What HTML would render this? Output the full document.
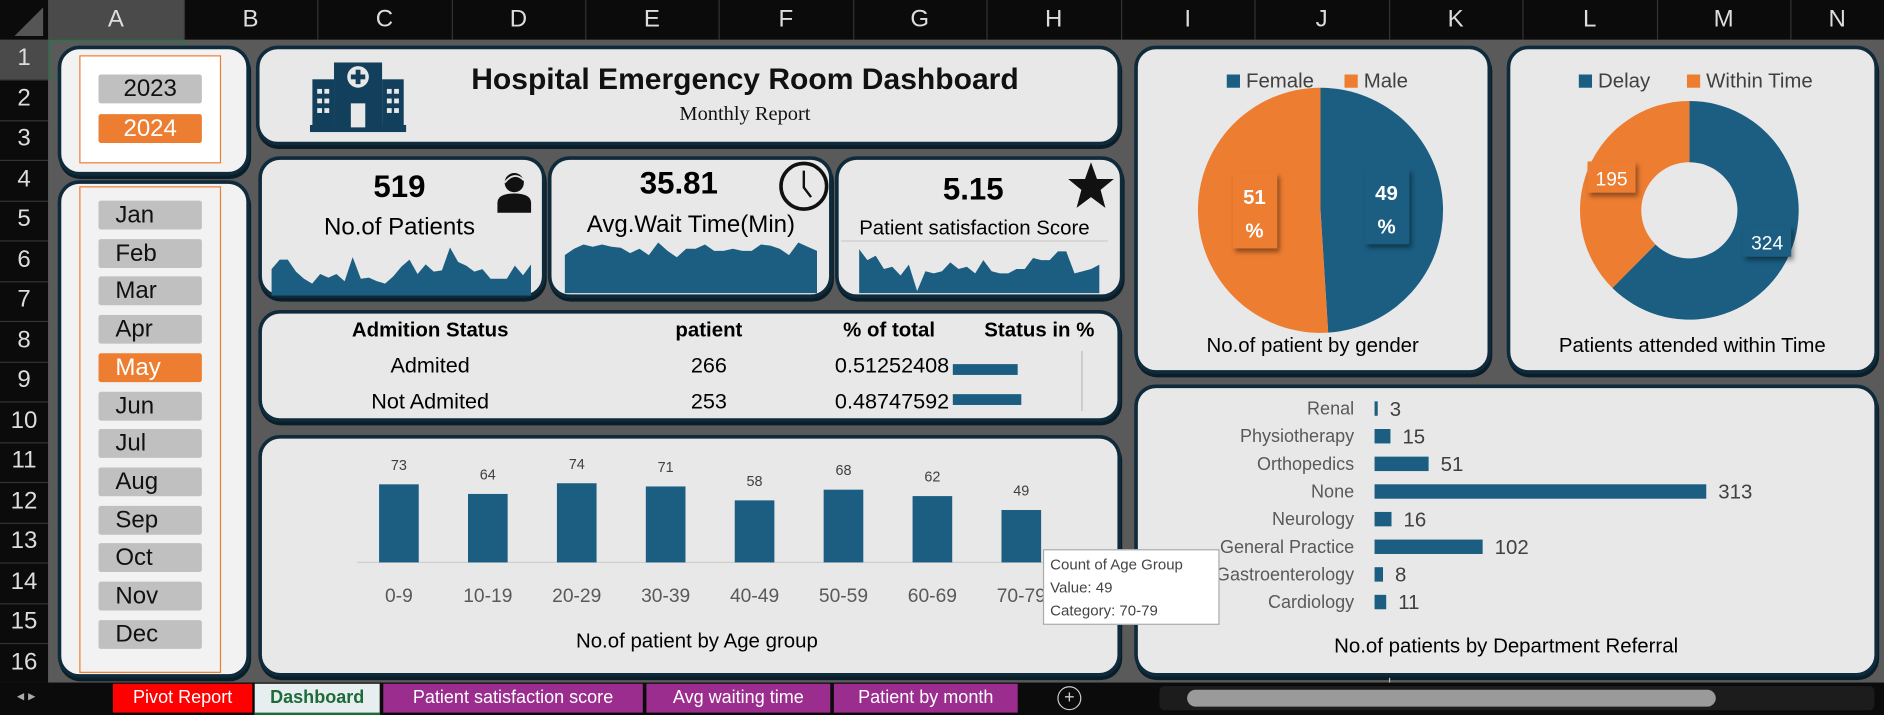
<!DOCTYPE html>
<html><head><meta charset="utf-8">
<style>
html,body{margin:0;padding:0;background:#595959;overflow:hidden;}
body{width:1884px;height:715px;}
#wrap{position:absolute;left:0;top:0;width:1568px;height:595px;transform:scale(1.20153,1.2017);transform-origin:0 0;font-family:"Liberation Sans",sans-serif;background:#5a5a5a;}
.abs{position:absolute;}
.panel{position:absolute;background:#e8e8e8;border:3px solid #0f2b3b;border-radius:18px;box-sizing:border-box;box-shadow:1px 3px 0 #0a1e29;}
.btn{position:absolute;left:82px;width:86px;height:24px;background:#c0c0c0;font-size:20px;color:#111;padding-left:14px;box-sizing:border-box;line-height:25px;border-radius:2px;}
.colh{position:absolute;top:0;height:33px;line-height:33px;font-size:20px;color:#ddd;text-align:center;border-right:1px solid #333;}
.rowh{position:absolute;left:0;width:40px;font-size:20px;color:#ddd;text-align:center;border-bottom:1px solid #333;}
.tab{position:absolute;top:569px;height:24px;line-height:24px;font-size:15px;color:#fff;text-align:center;}
</style></head><body>
<div id="wrap">
<div class="abs" style="left:0;top:0;width:1568px;height:33px;background:#0b0b0b;"></div>
<div class="abs" style="left:0;top:33px;width:40px;height:535px;background:#0b0b0b;"></div>
<svg class="abs" style="left:12px;top:6px" width="24" height="24"><polygon points="24,0 24,24 0,24" fill="#555"/></svg>
<div id="cols"></div><div id="rows"></div>
<div class="abs" style="left:41px;top:33px;width:112px;height:32px;border:1px solid #1e7a45;box-sizing:border-box;"></div>

<div class="panel" style="left:48px;top:38px;width:160px;height:108px;background:#f2f2f2"></div>
<div class="abs" style="left:66px;top:46px;width:118px;height:90px;border:1px solid #ed7d31;background:#fff;box-sizing:border-box"></div>
<div class="btn" style="top:62px;padding-left:0;text-align:center">2023</div>
<div class="btn" style="top:95px;padding-left:0;text-align:center;background:#ed7d31;color:#fff">2024</div>

<div class="panel" style="left:48px;top:150px;width:160px;height:414px;background:#f2f2f2"></div>
<div class="abs" style="left:66px;top:155px;width:118px;height:405px;border:1px solid #ed7d31;background:#f2f2f2;box-sizing:border-box"></div>
<div id="months"></div>

<div class="panel" style="left:213px;top:38px;width:720px;height:83px"></div>
<svg class="abs" style="left:256px;top:48px" width="84" height="62" viewBox="0 0 84 62">
<rect x="2" y="56" width="80" height="6" fill="#113f5c"/>
<rect x="4" y="18" width="18" height="40" fill="#113f5c"/><rect x="62" y="18" width="18" height="40" fill="#113f5c"/>
<rect x="22" y="4" width="40" height="54" fill="#113f5c"/>
<circle cx="42" cy="16" r="9" fill="#e8e8e8"/><rect x="40" y="10" width="4" height="12" fill="#113f5c"/><rect x="36" y="14" width="12" height="4" fill="#113f5c"/>
<rect x="36" y="38" width="12" height="20" fill="#e8e8e8"/>
<g fill="#e8e8e8"><rect x="8" y="26" width="4" height="4"/><rect x="14" y="26" width="4" height="4"/><rect x="8" y="34" width="4" height="4"/><rect x="14" y="34" width="4" height="4"/><rect x="8" y="42" width="4" height="4"/><rect x="14" y="42" width="4" height="4"/>
<rect x="66" y="26" width="4" height="4"/><rect x="72" y="26" width="4" height="4"/><rect x="66" y="34" width="4" height="4"/><rect x="72" y="34" width="4" height="4"/><rect x="66" y="42" width="4" height="4"/><rect x="72" y="42" width="4" height="4"/></g>
</svg>
<div class="abs" style="left:360px;top:52px;width:520px;text-align:center;font-size:25px;font-weight:bold;color:#111">Hospital Emergency Room Dashboard</div>
<div class="abs" style="left:360px;top:85px;width:520px;text-align:center;font-size:17px;font-family:'Liberation Serif',serif;color:#111">Monthly Report</div>

<div class="panel" style="left:215px;top:130px;width:239px;height:118px"></div>
<div class="panel" style="left:456px;top:130px;width:237px;height:118px"></div>
<div class="panel" style="left:695px;top:130px;width:240px;height:118px"></div>
<div class="abs" style="left:270px;top:140px;width:125px;text-align:center;font-size:26px;font-weight:bold">519</div>
<div class="abs" style="left:235px;top:178px;width:195px;text-align:center;font-size:20px">No.of Patients</div>
<div class="abs" style="left:500px;top:137px;width:130px;text-align:center;font-size:26px;font-weight:bold">35.81</div>
<div class="abs" style="left:470px;top:176px;width:210px;text-align:center;font-size:20px">Avg.Wait Time(Min)</div>
<div class="abs" style="left:750px;top:142px;width:120px;text-align:center;font-size:26px;font-weight:bold">5.15</div>
<div class="abs" style="left:700px;top:180px;width:222px;text-align:center;font-size:17px;border-bottom:1px solid #ccc">Patient satisfaction Score</div>
<svg class="abs" style="left:408px;top:138px" width="40" height="40"><circle cx="20" cy="14" r="8" fill="#111"/><path d="M12 14 q8 -10 16 -2" stroke="#e8e8e8" stroke-width="1.5" fill="none"/><path d="M6 39 v-8 q0 -8 14 -8 q14 0 14 8 v8z" fill="#111"/></svg>
<svg class="abs" style="left:647px;top:132px" width="44" height="46"><circle cx="22" cy="23" r="19" fill="none" stroke="#111" stroke-width="3"/><path d="M22 10 v14 l6 8" stroke="#111" stroke-width="2" fill="none"/></svg>
<svg class="abs" style="left:888px;top:133px" width="40" height="42"><polygon points="20,2 25,16 39,16 28,25 32,40 20,31 8,40 12,25 1,16 15,16" fill="#111"/></svg>
<svg id="spark1" class="abs" style="left:226px;top:200px" width="216" height="46"></svg>
<svg id="spark2" class="abs" style="left:470px;top:200px" width="210" height="44"></svg>
<svg id="spark3" class="abs" style="left:715px;top:200px" width="200" height="44"></svg>

<div class="panel" style="left:215px;top:258px;width:718px;height:93px"></div>
<div class="abs" style="left:268px;top:265px;width:180px;font-size:17px;font-weight:bold;text-align:center">Admition Status</div>
<div class="abs" style="left:540px;top:265px;width:100px;font-size:17px;font-weight:bold;text-align:center">patient</div>
<div class="abs" style="left:680px;top:265px;width:120px;font-size:17px;font-weight:bold;text-align:center">% of total</div>
<div class="abs" style="left:805px;top:265px;width:120px;font-size:17px;font-weight:bold;text-align:center">Status in %</div>
<div class="abs" style="left:268px;top:294px;width:180px;font-size:18px;text-align:center">Admited</div>
<div class="abs" style="left:268px;top:324px;width:180px;font-size:18px;text-align:center">Not Admited</div>
<div class="abs" style="left:540px;top:294px;width:100px;font-size:18px;text-align:center">266</div>
<div class="abs" style="left:540px;top:324px;width:100px;font-size:18px;text-align:center">253</div>
<div class="abs" style="left:680px;top:294px;width:110px;font-size:18px;text-align:right">0.51252408</div>
<div class="abs" style="left:680px;top:324px;width:110px;font-size:18px;text-align:right">0.48747592</div>
<div class="abs" style="left:793px;top:303px;width:54px;height:9px;background:#1b5e82"></div>
<div class="abs" style="left:793px;top:328px;width:57px;height:9px;background:#1b5e82"></div>
<div class="abs" style="left:900px;top:292px;width:1px;height:50px;background:#bbb"></div>

<div class="panel" style="left:215px;top:362px;width:718px;height:201px"></div>
<svg id="agechart" class="abs" style="left:215px;top:362px" width="718" height="201"></svg>
<div class="abs" style="left:400px;top:524px;width:360px;text-align:center;font-size:17px">No.of patient by Age group</div>

<div class="panel" style="left:944px;top:38px;width:297px;height:273px"></div>
<svg id="pie" class="abs" style="left:944px;top:38px" width="297" height="273"></svg>
<div class="abs" style="left:944px;top:278px;width:297px;text-align:center;font-size:17px">No.of patient by gender</div>

<div class="panel" style="left:1254px;top:38px;width:309px;height:273px"></div>
<svg id="donut" class="abs" style="left:1254px;top:38px" width="309" height="273"></svg>
<div class="abs" style="left:1254px;top:278px;width:309px;text-align:center;font-size:17px">Patients attended within Time</div>

<div class="panel" style="left:944px;top:320px;width:619px;height:243px"></div>
<svg id="dept" class="abs" style="left:944px;top:320px" width="619" height="243"></svg>
<div class="abs" style="left:944px;top:528px;width:619px;text-align:center;font-size:17px">No.of patients by Department Referral</div>
<div class="abs" style="left:1156px;top:564px;width:1px;height:4px;background:#bbb"></div>

<div class="abs" style="left:868px;top:457px;width:147px;height:63px;background:#fff;border:1px solid #aaa;box-sizing:border-box;padding:3px 5px;font-size:12.5px;line-height:19px;color:#444">Count of Age Group<br>Value: 49<br>Category: 70-79</div>

<div class="abs" style="left:0;top:568px;width:1568px;height:27px;background:#0b0b0b"></div>
<div class="abs" style="left:14px;top:572px;color:#aaa;font-size:12px">◂ ▸</div>
<div class="tab" style="left:94px;width:116px;background:#f00">Pivot Report</div>
<div class="tab" style="left:212px;width:104px;background:#e6eef0;color:#1e6b3a;font-weight:bold;border-bottom:2px solid #1e6b3a">Dashboard</div>
<div class="tab" style="left:319px;width:216px;background:#9b2d8f">Patient satisfaction score</div>
<div class="tab" style="left:538px;width:153px;background:#9b2d8f">Avg waiting time</div>
<div class="tab" style="left:694px;width:153px;background:#9b2d8f">Patient by month</div>
<div class="abs" style="left:880px;top:571px;width:18px;height:18px;border:1px solid #ccc;border-radius:50%;color:#ccc;text-align:center;line-height:18px;font-size:15px">+</div>
<div class="abs" style="left:965px;top:571px;width:595px;height:20px;background:#1c1c1c;border-radius:4px"></div>
<div class="abs" style="left:988px;top:574px;width:440px;height:14px;background:#9a9a9a;border-radius:7px"></div>
</div>

<script>
const NS="http://www.w3.org/2000/svg";
function mk(parent,tag,attrs){const e=document.createElementNS(NS,tag);for(const k in attrs)e.setAttribute(k,attrs[k]);parent.appendChild(e);return e;}
function div(parent,css,txt){const d=document.createElement('div');d.style.cssText=css;d.textContent=txt;parent.appendChild(d);return d;}

const colLetters=["A","B","C","D","E","F","G","H","I","J","K","L","M","N"];
const colEdges=[40,153,264,376,487,598,710,821,933,1044,1156,1267,1379,1490,1568];
const colsEl=document.getElementById('cols');
colLetters.forEach((c,i)=>{const d=div(colsEl,'',c);d.className='colh';d.style.left=colEdges[i]+'px';d.style.width=(colEdges[i+1]-colEdges[i])+'px';if(i===0)d.style.background='#4a4a4a';

});
const rowsEl=document.getElementById('rows');
for(let r=1;r<=16;r++){const d=div(rowsEl,'',String(r));d.className='rowh';const y=33+(r-1)*33.5;d.style.top=y+'px';d.style.height='33px';d.style.lineHeight='30px';if(r===1)d.style.background='#4a4a4a';

}

const months=["Jan","Feb","Mar","Apr","May","Jun","Jul","Aug","Sep","Oct","Nov","Dec"];
const mEl=document.getElementById('months');
months.forEach((m,i)=>{const d=div(mEl,'',m);d.className='btn';d.style.top=(167+i*31.7)+'px';if(m==="May"){d.style.background='#ed7d31';d.style.color='#fff';}

});

const spark1Values=[22,30,30,20,14,10,18,15,18,12,32,14,15,12,10,16,24,30,18,26,20,21,40,28,25,20,22,14,14,14,25,17,26];
const spark2Values=[36,42,46,44,46,44,43,38,42,36,48,40,34,42,42,46,40,40,42,40,40,46,45,42,36,48,44,40];
const spark3Values=[40,30,34,22,24,16,26,2,20,18,20,28,22,24,18,30,20,18,18,22,22,32,30,30,38,38,18,20,22,26];
function spark(id,vals,max){const s=document.getElementById(id);const w=+s.getAttribute('width'),h=+s.getAttribute('height');
const x=i=>i*w/(vals.length-1),y=v=>h-v/max*h;
let d='M0 '+h;vals.forEach((v,i)=>d+=' L'+x(i).toFixed(1)+' '+y(v).toFixed(1));d+=' L'+w+' '+h+'Z';
const p=mk(s,'path',{d:d,fill:'#1b5e82'});

}
spark('spark1',spark1Values,46);spark('spark2',spark2Values,50);spark('spark3',spark3Values,48);

const ageCategories=["0-9","10-19","20-29","30-39","40-49","50-59","60-69","70-79"];
const ageValues=[73,64,74,71,58,68,62,49];
(function(){const s=document.getElementById('agechart');const base=106,scale=0.89,x0=117,step=74,bw=33;
const ax=mk(s,'line',{x1:82,x2:655,y1:base,y2:base,stroke:'#cfcfcf'});


ageValues.forEach((v,i)=>{const cx=x0+i*step;const h=v*scale;
const r=mk(s,'rect',{x:cx-bw/2,y:base-h,width:bw,height:h,fill:'#1b5e82'});


const t=mk(s,'text',{x:cx,y:base-h-12,'text-anchor':'middle','font-size':12,fill:'#404040','font-family':'Liberation Sans'});t.textContent=v;


const l=mk(s,'text',{x:cx,y:base+33,'text-anchor':'middle','font-size':16,fill:'#595959','font-family':'Liberation Sans'});l.textContent=ageCategories[i];

});})();

const genderLabels=["Female","Male"];
const genderValues=[49,51];
const genderColors=["#1b5e82","#ed7d31"];
function arcPath(cx,cy,r,ri,a0,a1){const p=(a,rr)=>[cx+rr*Math.sin(a),cy-rr*Math.cos(a)];const lg=(a1-a0)>Math.PI?1:0;
const [x0,y0]=p(a0,r),[x1,y1]=p(a1,r);if(!ri)return `M${cx} ${cy} L${x0} ${y0} A${r} ${r} 0 ${lg} 1 ${x1} ${y1}Z`;
const [x2,y2]=p(a1,ri),[x3,y3]=p(a0,ri);return `M${x0} ${y0} A${r} ${r} 0 ${lg} 1 ${x1} ${y1} L${x2} ${y2} A${ri} ${ri} 0 ${lg} 0 ${x3} ${y3}Z`;}
function legend(s,labels,colors,xs){labels.forEach((l,i)=>{const r=mk(s,'rect',{x:xs[i],y:24,width:11,height:11,fill:colors[i]});


const t=mk(s,'text',{x:xs[i]+16,y:35,'font-size':17,fill:'#404040','font-family':'Liberation Sans'});t.textContent=l;

});}
(function(){const s=document.getElementById('pie');const cx=155,cy=137,r=102;const tot=genderValues.reduce((a,b)=>a+b,0);
legend(s,genderLabels,genderColors,[77,175]);
let a=0;genderValues.forEach((v,i)=>{const a1=a+v/tot*2*Math.PI;const p=mk(s,'path',{d:arcPath(cx,cy,r,0,a,a1),fill:genderColors[i]});


const mid=(a+a1)/2;const lx=cx+55*Math.sin(mid),ly=cy-55*Math.cos(mid);
const b=mk(s,'rect',{x:lx-18,y:ly-33,width:37,height:63,fill:genderColors[i],stroke:'none'});b.setAttribute('style','filter:drop-shadow(2px 3px 2px rgba(0,0,0,.4))');


const t=mk(s,'text',{x:lx,y:ly-7,'text-anchor':'middle','font-size':17,'font-weight':'bold',fill:'#fff','font-family':'Liberation Sans'});t.textContent=v;


const t2=mk(s,'text',{x:lx,y:ly+21,'text-anchor':'middle','font-size':17,'font-weight':'bold',fill:'#fff','font-family':'Liberation Sans'});t2.textContent='%';


a=a1;});})();

const timeLabels=["Delay","Within Time"];
const timeValues=[324,195];
const timeColors=["#1b5e82","#ed7d31"];
(function(){const s=document.getElementById('donut');const cx=152,cy=137,r=91,ri=40;const tot=timeValues.reduce((a,b)=>a+b,0);
legend(s,timeLabels,timeColors,[60,150]);
let a=0;timeValues.forEach((v,i)=>{const a1=a+v/tot*2*Math.PI;const p=mk(s,'path',{d:arcPath(cx,cy,r,ri,a,a1),fill:timeColors[i]});


const mid=(a+a1)/2;const lx=cx+70*Math.sin(mid),ly=cy-70*Math.cos(mid);
const b=mk(s,'rect',{x:lx-20,y:ly-14,width:40,height:26,fill:timeColors[i]});b.setAttribute('style','filter:drop-shadow(2px 3px 2px rgba(0,0,0,.4))');


const t=mk(s,'text',{x:lx,y:ly+6,'text-anchor':'middle','font-size':16,fill:'#fff','font-family':'Liberation Sans'});t.textContent=v;


a=a1;});})();

const deptCategories=["Renal","Physiotherapy","Orthopedics","None","Neurology","General Practice","Gastroenterology","Cardiology"];
const deptValues=[3,15,51,313,16,102,8,11];
(function(){const s=document.getElementById('dept');const x0=200,scale=0.882,y0=20,step=23,bh=12;
deptCategories.forEach((c,i)=>{const cy=y0+i*step;const w=deptValues[i]*scale;
const r=mk(s,'rect',{x:x0,y:cy-bh/2,width:w,height:bh,fill:'#1b5e82'});


const l=mk(s,'text',{x:x0-17,y:cy+5,'text-anchor':'end','font-size':15,fill:'#595959','font-family':'Liberation Sans'});l.textContent=c;


const t=mk(s,'text',{x:x0+w+10,y:cy+6,'font-size':17,fill:'#404040','font-family':'Liberation Sans'});t.textContent=deptValues[i];

});})();
</script>
</body></html>
